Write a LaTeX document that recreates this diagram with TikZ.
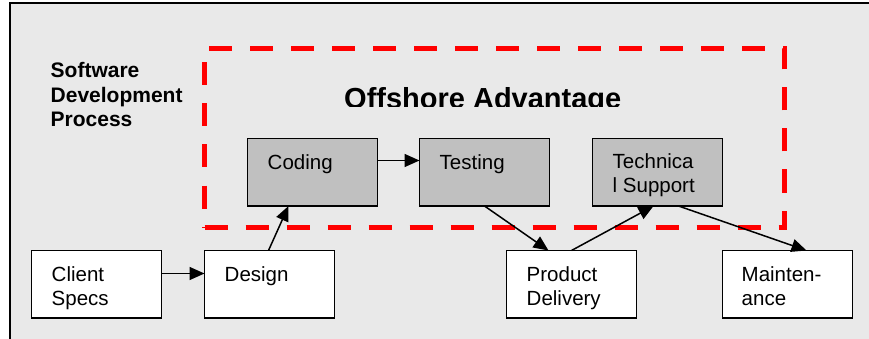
\documentclass[tikz,border=0pt]{standalone}
\usepackage{fontspec}
\setmainfont{Liberation Sans}
\usetikzlibrary{arrows.meta}

\definecolor{panel}{HTML}{E9E9E9}
\definecolor{stepgray}{HTML}{C0C0C0}
\definecolor{zonered}{HTML}{FF0000}

% left-aligned block whose baseline is that of its first line
\newcommand{\linesblock}[1]{\begin{tabular}[t]{@{}l@{}}#1\end{tabular}}

\begin{document}
\begin{tikzpicture}[x=1pt,y=-1pt,
  box/.style={draw=black, line width=1.3pt, minimum width=130pt,
    minimum height=67.5pt, inner sep=0pt, outer sep=0pt, anchor=north west},
  stage/.style={box, fill=white},
  offshore/.style={box, fill=stepgray},
  boxtext/.style={anchor=base west, inner sep=0pt,
    font=\fontsize{20.5}{24.5}\selectfont},
  heading/.style={anchor=base west, inner sep=0pt,
    font=\bfseries\fontsize{21}{24.3}\selectfont},
  title/.style={anchor=base west, inner sep=0pt,
    font=\bfseries\fontsize{29}{34}\selectfont},
  zone/.style={draw=zonered, line width=5pt, dash pattern=on 23pt off 18pt,
    minimum width=580pt, minimum height=179pt, inner sep=0pt, outer sep=0pt,
    anchor=north west},
  flow/.style={line width=1.5pt, -{Triangle[length=15pt,width=13pt]}}
]
\useasboundingbox (0,0) rectangle (869,339);

% panel with its frame on the left and top
\fill[panel] (10,3) rectangle (869,339);
\draw[line width=2pt] (10,339) -- (10,3) -- (869,3);

% offshore zone
\node[zone] (zone) at (204.5,48.5) {};

% headings
\node[heading] (sdp) at (50.5,78) {\linesblock{Software\\Development\\Process}};
\begin{scope}
  \clip (0,0) rectangle (869,107);
  \node[title] (adv) at (344,108.8) {Offshore Advantage};
\end{scope}

% process steps
\node[offshore] (cod) at (247.5,138.5) {};
\node[offshore] (tst) at (419.5,138.5) {};
\node[offshore] (sup) at (592.5,138.5) {};
\node[stage] (cli) at (31.5,250.5) {};
\node[stage] (des) at (204.5,250.5) {};
\node[stage] (del) at (506.5,250.5) {};
\node[stage] (mnt) at (722.5,250.5) {};

% step labels
\node[boxtext] (cod-t) at ([shift={(20,31)}]cod.north west) {Coding};
\node[boxtext] (tst-t) at ([shift={(20,31)}]tst.north west) {Testing};
\node[boxtext] (sup-t) at ([shift={(20,30)}]sup.north west) {\linesblock{Technica\\l Support}};
\node[boxtext] (cli-t) at ([shift={(20,30.5)}]cli.north west) {\linesblock{Client\\Specs}};
\node[boxtext] (des-t) at ([shift={(20,30.5)}]des.north west) {Design};
\node[boxtext] (del-t) at ([shift={(20,30.5)}]del.north west) {\linesblock{Product\\Delivery}};
\node[boxtext] (mnt-t) at ([shift={(19,30.5)}]mnt.north west) {\linesblock{Mainten-\\ance}};

% flow between steps
\draw[flow] ([yshift=10.75pt]cli.east) -- ([yshift=10.75pt]des.west);
\draw[flow] ([xshift=-1pt]des.north) -- ([xshift=-24pt]cod.south);
\draw[flow] ([yshift=11.75pt]cod.east) -- ([yshift=11.75pt]tst.west);
\draw[flow] (tst.south) -- ([xshift=-23pt]del.north);
\draw[flow] (del.north) -- ([xshift=-4pt]sup.south);
\draw[flow] ([xshift=21pt]sup.south) -- ([xshift=19pt]mnt.north);
\end{tikzpicture}
\end{document}
